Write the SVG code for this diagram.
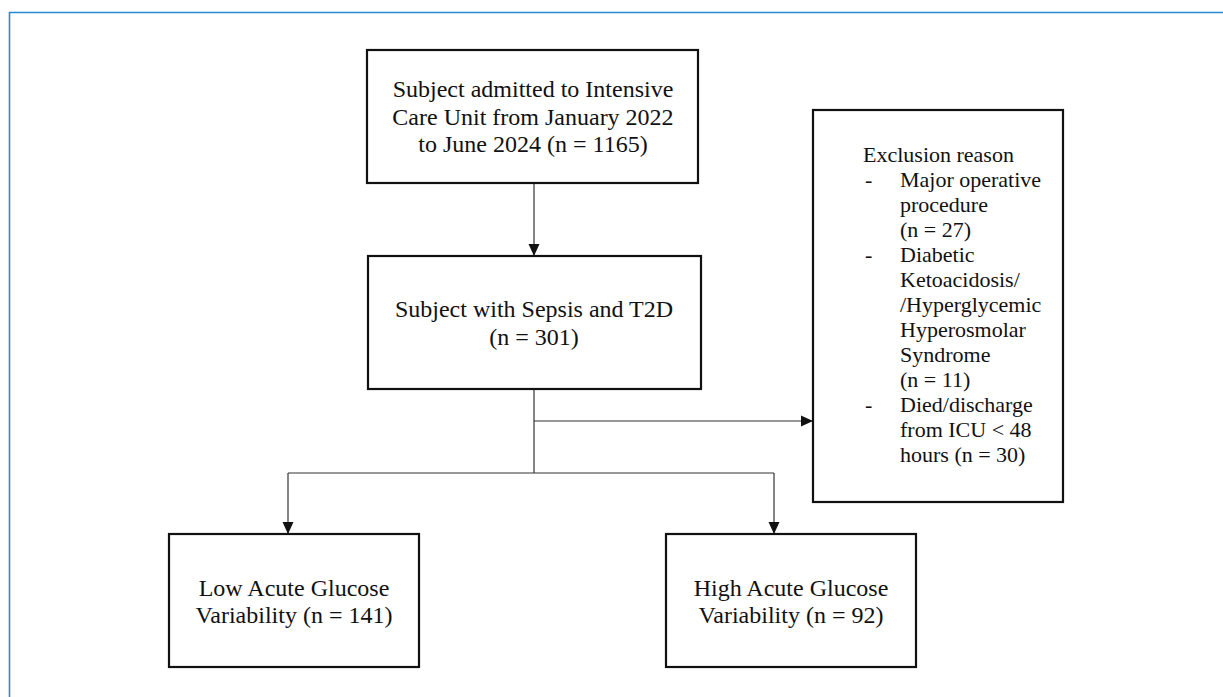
<svg xmlns="http://www.w3.org/2000/svg" width="1223" height="697" viewBox="0 0 1223 697">
<style>
.box{fill:#fff;stroke:#111;stroke-width:2.2}
.t{font-family:"Liberation Serif","Times New Roman",serif;font-size:24px;fill:#111}
.tc{text-anchor:middle}
.ex{font-family:"Liberation Serif","Times New Roman",serif;font-size:22px;fill:#111}
.c{fill:none;stroke:#333;stroke-width:1.2}
</style>
<defs>
<marker id="arr" markerUnits="userSpaceOnUse" markerWidth="12" markerHeight="12" viewBox="0 0 12 12" refX="12" refY="6" orient="auto">
<path d="M0,0.5 L12,6 L0,11.5 Z" fill="#111"/>
</marker>
</defs>
<rect x="0" y="0" width="1223" height="697" fill="#fff"/>
<path d="M9.5,697 V12.5 H1223" fill="none" stroke="#2b88d3" stroke-width="1.6"/>
<g id="connectors">
<path class="c" d="M534,183 V256" marker-end="url(#arr)"/>
<path class="c" d="M534,389 V473"/>
<path class="c" d="M534,421 H813" marker-end="url(#arr)"/>
<path class="c" d="M288,473 H774"/>
<path class="c" d="M288,473 V534" marker-end="url(#arr)"/>
<path class="c" d="M774,473 V534" marker-end="url(#arr)"/>
</g>
<g id="node-admitted">
<rect class="box" x="367" y="50" width="331" height="133"/>
<text class="t tc" x="533" y="97">Subject admitted to Intensive</text>
<text class="t tc" x="533" y="124.5">Care Unit from January 2022</text>
<text class="t tc" x="533" y="152">to June 2024 (n = 1165)</text>
</g>
<g id="node-sepsis">
<rect class="box" x="368" y="256" width="333" height="133"/>
<text class="t tc" x="534" y="317">Subject with Sepsis and T2D</text>
<text class="t tc" x="534" y="345">(n = 301)</text>
</g>
<g id="node-exclusion">
<rect class="box" x="813" y="110" width="250" height="392"/>
<text class="ex" x="863" y="162">Exclusion reason</text>
<text class="ex" x="865" y="187">-</text>
<text class="ex" x="900" y="187">Major operative</text>
<text class="ex" x="900" y="212">procedure</text>
<text class="ex" x="900" y="237">(n = 27)</text>
<text class="ex" x="865" y="262">-</text>
<text class="ex" x="900" y="262">Diabetic</text>
<text class="ex" x="900" y="287">Ketoacidosis/</text>
<text class="ex" x="900" y="312">/Hyperglycemic</text>
<text class="ex" x="900" y="337">Hyperosmolar</text>
<text class="ex" x="900" y="362">Syndrome</text>
<text class="ex" x="900" y="387">(n = 11)</text>
<text class="ex" x="865" y="412">-</text>
<text class="ex" x="900" y="412">Died/discharge</text>
<text class="ex" x="900" y="437">from ICU &lt; 48</text>
<text class="ex" x="900" y="462">hours (n = 30)</text>
</g>
<g id="node-low">
<rect class="box" x="169" y="534" width="250" height="133"/>
<text class="t tc" x="294" y="596">Low Acute Glucose</text>
<text class="t tc" x="294" y="623">Variability (n = 141)</text>
</g>
<g id="node-high">
<rect class="box" x="666" y="534" width="250" height="133"/>
<text class="t tc" x="791" y="596">High Acute Glucose</text>
<text class="t tc" x="791" y="623">Variability (n = 92)</text>
</g>
</svg>
